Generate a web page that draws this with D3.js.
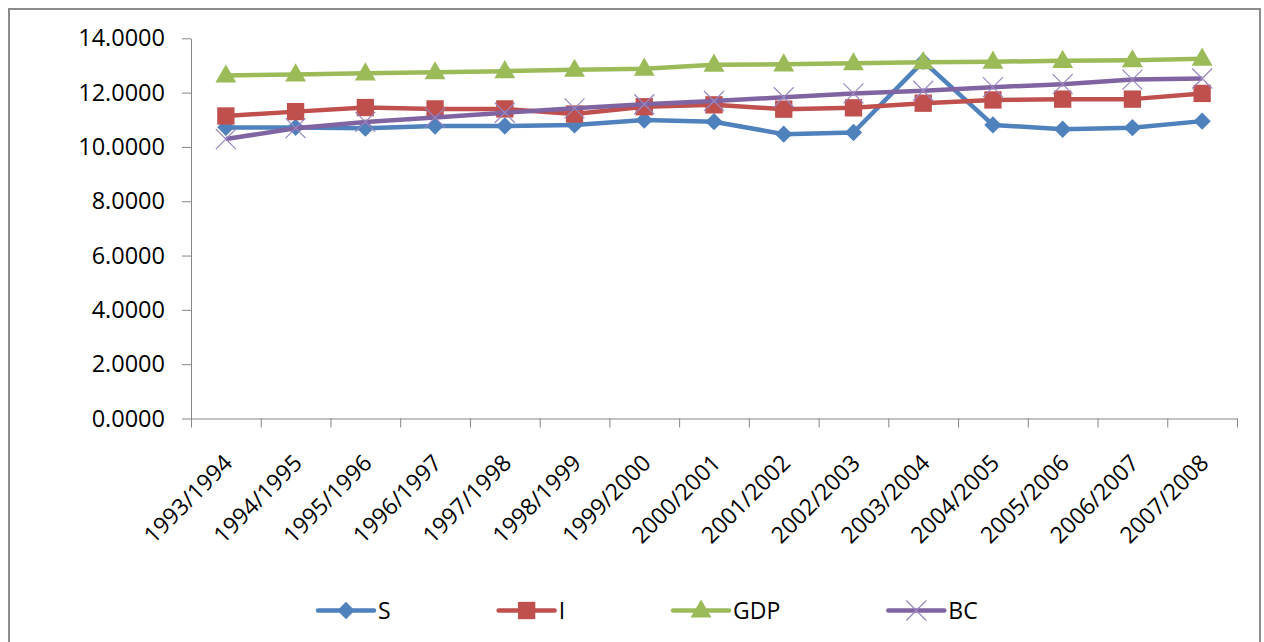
<!DOCTYPE html>
<html>
<head>
<meta charset="utf-8">
<script src="https://cdn.jsdelivr.net/npm/d3@7/dist/d3.min.js"></script>
<style>
  html, body { margin: 0; padding: 0; background: #fff; }
  svg { display: block; }
  text { font-family: "Open Sans", "Liberation Sans", sans-serif; fill: #000; }
</style>
</head>
<body>
<svg id="chart" width="1264" height="642"></svg>
<script>
// Fiscal years on the category axis
const categories = [
  "1993/1994", "1994/1995", "1995/1996", "1996/1997", "1997/1998",
  "1998/1999", "1999/2000", "2000/2001", "2001/2002", "2002/2003",
  "2003/2004", "2004/2005", "2005/2006", "2006/2007", "2007/2008"
];

// Series values (log scale figures)
const sValues   = [10.72, 10.72, 10.69, 10.77, 10.77, 10.81, 10.99, 10.93, 10.47, 10.53, 13.15, 10.81, 10.65, 10.71, 10.95];
const iValues   = [11.14, 11.30, 11.45, 11.40, 11.40, 11.21, 11.48, 11.55, 11.39, 11.44, 11.61, 11.73, 11.76, 11.76, 11.97];
const gdpValues = [12.63, 12.67, 12.71, 12.75, 12.79, 12.84, 12.88, 13.03, 13.04, 13.08, 13.12, 13.14, 13.17, 13.19, 13.25];
const bcValues  = [10.29, 10.69, 10.92, 11.08, 11.26, 11.42, 11.57, 11.69, 11.83, 11.97, 12.07, 12.20, 12.31, 12.48, 12.52];

const seriesNames = ["S", "I", "GDP", "BC"];
const yTickValues = [0, 2, 4, 6, 8, 10, 12, 14];

const seriesList = [
  { name: seriesNames[0], values: sValues,   color: "#4F81BD", marker: "diamond" },
  { name: seriesNames[1], values: iValues,   color: "#C0504D", marker: "square" },
  { name: seriesNames[2], values: gdpValues, color: "#9BBB59", marker: "triangle" },
  { name: seriesNames[3], values: bcValues,  color: "#8064A2", marker: "times" }
];

const svg = d3.select("#chart");
const axisColor = "#868686";

// Outer chart frame
svg.append("rect")
  .attr("x", 9).attr("y", 9)
  .attr("width", 1251).attr("height", 660)
  .attr("fill", "none")
  .attr("stroke", "#8c8c8c")
  .attr("stroke-width", 2);

const plot = { left: 191, right: 1237, top: 38.3, bottom: 418.5 };

const x = d3.scaleBand().domain(categories).range([plot.left, plot.right]).padding(0);
const y = d3.scaleLinear().domain([0, 14]).range([plot.bottom, plot.top]);
const cx = d => x(d) + x.bandwidth() / 2;

// Y axis
const yAxis = svg.append("g")
  .attr("transform", `translate(${plot.left},0)`)
  .call(d3.axisLeft(y).tickValues(yTickValues).tickFormat(d3.format(".4f"))
    .tickSize(9).tickSizeOuter(0).tickPadding(17));
yAxis.attr("font-size", null).attr("font-family", null);
yAxis.select(".domain").attr("stroke", axisColor);
yAxis.selectAll(".tick line").attr("stroke", axisColor);
yAxis.selectAll(".tick text").attr("font-size", 23.5).attr("fill", "#000");

// X axis: tick marks on category boundaries
const boundary = d3.scaleLinear().domain([0, categories.length]).range([plot.left, plot.right]);
const xTicks = svg.append("g")
  .attr("transform", `translate(0,${plot.bottom})`)
  .call(d3.axisBottom(boundary).tickValues(d3.range(categories.length + 1))
    .tickSize(9).tickSizeOuter(0).tickFormat(""));
xTicks.select(".domain").attr("stroke", axisColor);
xTicks.selectAll(".tick line").attr("stroke", axisColor);

// X axis: rotated category labels
const xLabels = svg.append("g")
  .attr("transform", `translate(0,${plot.bottom})`)
  .call(d3.axisBottom(x).tickSize(0));
xLabels.select(".domain").remove();
xLabels.attr("font-size", null).attr("font-family", null);
xLabels.selectAll(".tick text")
  .attr("font-size", 23)
  .attr("fill", "#000")
  .attr("x", 0).attr("y", 0).attr("dy", null)
  .attr("text-anchor", "end")
  .attr("transform", "translate(8,46) rotate(-45)");

// Marker generators
function markerPath(type) {
  if (type === "diamond") return d3.symbol(d3.symbolSquare, 150)();
  if (type === "square") return d3.symbol(d3.symbolSquare, 300)();
  if (type === "triangle") return d3.symbol(d3.symbolTriangle, 190)();
  return d3.symbol(d3.symbolTimes, 263)();
}
function drawMarker(g, type, color, px, py) {
  const p = g.append("path").attr("d", markerPath(type));
  if (type === "times") {
    p.attr("fill", "none").attr("stroke", "#9a86c0").attr("stroke-width", 1.2)
      .attr("transform", `translate(${px},${py})`);
  } else {
    p.attr("fill", color)
      .attr("transform", `translate(${px},${py})` + (type === "diamond" ? " rotate(45)" : "") +
        (type === "triangle" ? " translate(0,1)" : ""));
  }
}

const line = d3.line().x((d, i) => cx(categories[i])).y(d => y(d));

// Series: line then markers, drawn in order so later series sit on top
seriesList.forEach(s => {
  const g = svg.append("g");
  g.append("path")
    .attr("d", line(s.values))
    .attr("fill", "none")
    .attr("stroke", s.color)
    .attr("stroke-width", 4.5)
    .attr("stroke-linejoin", "round");
  s.values.forEach((v, i) => drawMarker(g, s.marker, s.color, cx(categories[i]), y(v)));
});

// Legend
const legend = svg.append("g");
const legendY = 610.5;
let lx = 318;
seriesList.forEach(s => {
  const g = legend.append("g");
  g.append("line")
    .attr("x1", lx).attr("x2", lx + 56)
    .attr("y1", legendY).attr("y2", legendY)
    .attr("stroke", s.color).attr("stroke-width", 4.5).attr("stroke-linecap", "round");
  drawMarker(g, s.marker, s.color, lx + 28, legendY);
  const t = g.append("text")
    .attr("x", lx + 60).attr("y", legendY + 8)
    .attr("font-size", 23)
    .text(s.name);
  lx += 60 + t.node().getComputedTextLength() + 108;
});
</script>
</body>
</html>
